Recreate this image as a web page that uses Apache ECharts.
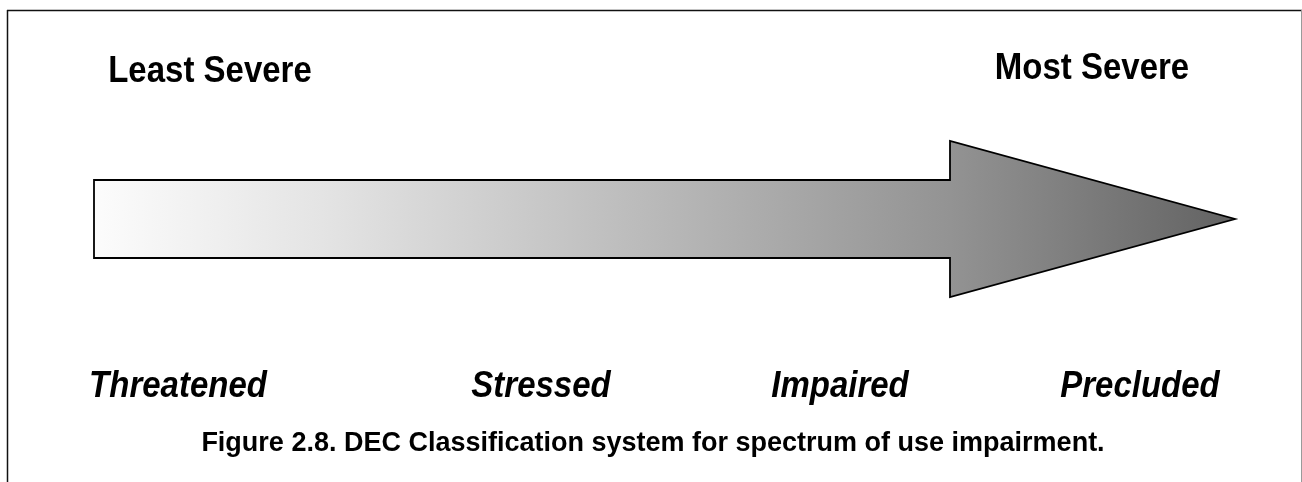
<!DOCTYPE html>
<html>
<head>
<meta charset="utf-8">
<script src="https://cdn.jsdelivr.net/npm/echarts@6/dist/echarts.min.js"></script>
<style>
html,body{margin:0;padding:0;background:#fff;}
#chart{width:1302px;height:482px;}
</style>
</head>
<body>
<div id="chart"></div>
<script>
// ---- data ----
const stageLabels = ['Threatened', 'Stressed', 'Impaired', 'Precluded'];
const stagePos = [178, 541, 840, 1140];          // position along the severity spectrum
const endLabels = ['Least Severe', 'Most Severe'];
const endPos = [210, 1092];
const captionText = 'Figure 2.8. DEC Classification system for spectrum of use impairment.';
// arrow outline (x along spectrum, y vertical)
const arrowX = [94, 950, 950, 1235, 950, 950, 94];
const arrowY = [180, 180, 141, 219, 297, 258, 258];

const chart = echarts.init(document.getElementById('chart'), null, {renderer: 'canvas'});
const FONT = '"Liberation Sans", Arial, Helvetica, sans-serif';

const option = {
  animation: false,
  backgroundColor: '#ffffff',
  grid: {left: 0, right: 0, top: 0, bottom: 0},
  xAxis: {type: 'value', min: 0, max: 1302, show: false},
  yAxis: {type: 'value', min: 0, max: 482, inverse: true, show: false},
  graphic: [
    {type: 'line', shape: {x1: 7, y1: 10.5, x2: 1302, y2: 10.5}, style: {stroke: '#111111', lineWidth: 1.5}, silent: true},
    {type: 'line', shape: {x1: 7.5, y1: 10, x2: 7.5, y2: 482}, style: {stroke: '#111111', lineWidth: 1.5}, silent: true},
    {type: 'line', shape: {x1: 1301.5, y1: 10, x2: 1301.5, y2: 482}, style: {stroke: '#9a9a9a', lineWidth: 1}, silent: true}
  ],
  series: [
    {
      type: 'custom',
      coordinateSystem: 'cartesian2d',
      data: arrowX.map((x, i) => [x, arrowY[i]]),
      renderItem: function (params, api) {
        if (params.dataIndex !== 0) return;
        const pts = arrowX.map((x, i) => api.coord([x, arrowY[i]]));
        return {
          type: 'polygon',
          shape: {points: pts},
          style: {
            fill: new echarts.graphic.LinearGradient(0, 0, 1, 0, [
              {offset: 0, color: '#fcfcfc'},
              {offset: 0.2, color: '#e4e4e4'},
              {offset: 0.75, color: '#939393'},
              {offset: 1, color: '#626262'}
            ]),
            stroke: '#000000',
            lineWidth: 1.8,
            lineJoin: 'miter'
          }
        };
      },
      silent: true,
      z: 2
    },
    {
      type: 'custom',
      coordinateSystem: 'cartesian2d',
      data: stagePos.map((x, i) => [x, 387, stageLabels[i]]),
      renderItem: function (params, api) {
        const p = api.coord([api.value(0), api.value(1)]);
        return {
          type: 'text',
          x: p[0], y: p[1],
          scaleY: 1.12,
          style: {
            text: stageLabels[params.dataIndex],
            font: 'italic bold 33px ' + FONT,
            fill: '#000',
            align: 'center',
            verticalAlign: 'middle'
          }
        };
      },
      silent: true,
      z: 3
    },
    {
      type: 'custom',
      coordinateSystem: 'cartesian2d',
      data: endPos.map((x, i) => [x, i === 0 ? 72 : 69, endLabels[i]]),
      renderItem: function (params, api) {
        const p = api.coord([api.value(0), api.value(1)]);
        return {
          type: 'text',
          x: p[0], y: p[1],
          scaleY: 1.12,
          style: {
            text: endLabels[params.dataIndex],
            font: 'bold 33px ' + FONT,
            fill: '#000',
            align: 'center',
            verticalAlign: 'middle'
          }
        };
      },
      silent: true,
      z: 3
    },
    {
      type: 'custom',
      coordinateSystem: 'cartesian2d',
      data: [[653, 443, captionText]],
      renderItem: function (params, api) {
        const p = api.coord([api.value(0), api.value(1)]);
        return {
          type: 'text',
          x: p[0], y: p[1],
          scaleY: 1.05,
          style: {
            text: captionText,
            font: 'bold 27px ' + FONT,
            fill: '#000',
            align: 'center',
            verticalAlign: 'middle'
          }
        };
      },
      silent: true,
      z: 3
    }
  ]
};
chart.setOption(option);
</script>
</body>
</html>
